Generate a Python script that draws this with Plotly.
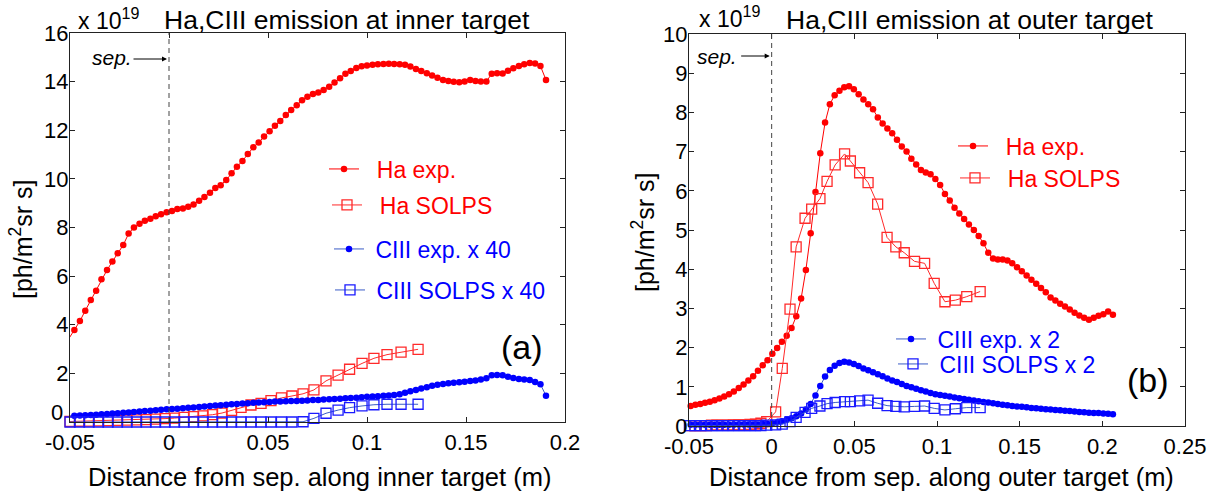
import plotly.graph_objects as go

W, H = 1220, 497
FONT = "Liberation Sans, Arial, sans-serif"
RED = "#ff0000"
RED_SQ = "#ff2a2a"
BLUE = "#0000ff"
BLUE_SQ = "#1a1aff"
CLINE = "#3a5cc6"

# ---------------- (a) inner target ----------------
x_inner_exp = [-0.0505, -0.0478, -0.0450, -0.0423, -0.0395, -0.0368, -0.0341, -0.0313, -0.0286, -0.0259,
               -0.0231, -0.0204, -0.0177, -0.0149, -0.0122, -0.0094, -0.0067, -0.0040, -0.0012, 0.0015,
               0.0042, 0.0070, 0.0097, 0.0124, 0.0152, 0.0179, 0.0207, 0.0234, 0.0261, 0.0289,
               0.0316, 0.0343, 0.0371, 0.0398, 0.0426, 0.0453, 0.0480, 0.0508, 0.0535, 0.0562,
               0.0590, 0.0617, 0.0645, 0.0672, 0.0699, 0.0727, 0.0754, 0.0781, 0.0809, 0.0836,
               0.0864, 0.0891, 0.0918, 0.0946, 0.0973, 0.1000, 0.1028, 0.1055, 0.1083, 0.1110,
               0.1137, 0.1165, 0.1192, 0.1219, 0.1247, 0.1274, 0.1302, 0.1329, 0.1356, 0.1384,
               0.1411, 0.1438, 0.1466, 0.1493, 0.1521, 0.1548, 0.1575, 0.1603, 0.1630, 0.1657,
               0.1685, 0.1712, 0.1739, 0.1767, 0.1794, 0.1822, 0.1849, 0.1876, 0.1904]
ha_inner_exp = [3.44, 3.78, 4.15, 4.58, 5.02, 5.40, 5.87, 6.25, 6.60, 6.94,
                7.28, 7.75, 8.00, 8.15, 8.28, 8.36, 8.46, 8.55, 8.63, 8.68,
                8.76, 8.78, 8.85, 8.95, 9.10, 9.25, 9.43, 9.62, 9.74, 9.95,
                10.23, 10.50, 10.74, 11.02, 11.30, 11.50, 11.74, 11.96, 12.19, 12.38,
                12.63, 12.83, 13.03, 13.23, 13.38, 13.49, 13.55, 13.66, 13.79, 13.96,
                14.14, 14.32, 14.44, 14.56, 14.63, 14.66, 14.69, 14.71, 14.73, 14.74,
                14.73, 14.71, 14.69, 14.62, 14.52, 14.44, 14.34, 14.25, 14.16, 14.07,
                14.03, 13.99, 13.97, 14.01, 14.07, 14.03, 14.01, 14.01, 14.32, 14.34,
                14.33, 14.45, 14.55, 14.64, 14.71, 14.77, 14.75, 14.64, 14.07]
ciii_inner_exp = [0.25, 0.26, 0.27, 0.28, 0.29, 0.30, 0.32, 0.33, 0.35, 0.36,
                  0.38, 0.39, 0.41, 0.43, 0.45, 0.46, 0.48, 0.50, 0.52, 0.53,
                  0.55, 0.57, 0.59, 0.60, 0.62, 0.64, 0.66, 0.68, 0.69, 0.71,
                  0.73, 0.74, 0.76, 0.77, 0.79, 0.80, 0.81, 0.82, 0.84, 0.84,
                  0.85, 0.86, 0.86, 0.87, 0.88, 0.90, 0.91, 0.93, 0.94, 0.95,
                  0.96, 0.98, 0.99, 1.00, 1.02, 1.04, 1.05, 1.06, 1.08, 1.09,
                  1.11, 1.14, 1.20, 1.26, 1.32, 1.38, 1.43, 1.49, 1.53, 1.56,
                  1.59, 1.61, 1.64, 1.66, 1.69, 1.71, 1.75, 1.80, 1.92, 1.93,
                  1.92, 1.86, 1.81, 1.77, 1.75, 1.73, 1.65, 1.55, 1.08]
x_inner_solps = [-0.0500, -0.0452, -0.0404, -0.0356, -0.0308, -0.0260, -0.0212, -0.0164, -0.0116, -0.0068,
                 -0.0020, 0.0028, 0.0076, 0.0124, 0.0172, 0.0220, 0.0268, 0.0316, 0.0364, 0.0414,
                 0.0465, 0.0515, 0.0568, 0.0621, 0.0677, 0.0732, 0.0793, 0.0854, 0.0912, 0.0975,
                 0.1035, 0.1101, 0.1172, 0.1258]
ha_inner_solps = [0.02, 0.03, 0.04, 0.05, 0.06, 0.07, 0.08, 0.09, 0.10, 0.12,
                  0.14, 0.16, 0.19, 0.22, 0.25, 0.30, 0.37, 0.48, 0.60, 0.70,
                  0.77, 0.88, 0.99, 1.07, 1.16, 1.32, 1.69, 1.93, 2.17, 2.41,
                  2.62, 2.77, 2.87, 2.99]
ciii_inner_solps = [0.00, 0.00, 0.00, 0.00, 0.00, 0.00, 0.00, 0.00, 0.00, 0.00,
                    0.00, 0.00, 0.00, 0.00, 0.00, 0.00, 0.00, 0.00, 0.00, 0.00,
                    0.00, 0.00, 0.00, 0.00, 0.01, 0.15, 0.36, 0.49, 0.59, 0.66,
                    0.71, 0.73, 0.73, 0.73]

# ---------------- (b) outer target ----------------
x_outer_exp = [-0.0490, -0.0461, -0.0432, -0.0403, -0.0374, -0.0345, -0.0316, -0.0287, -0.0258, -0.0229,
               -0.0199, -0.0170, -0.0141, -0.0112, -0.0083, -0.0054, -0.0025, 0.0004, 0.0033, 0.0062,
               0.0091, 0.0120, 0.0149, 0.0178, 0.0207, 0.0236, 0.0265, 0.0294, 0.0323, 0.0352,
               0.0381, 0.0410, 0.0439, 0.0468, 0.0497, 0.0526, 0.0555, 0.0584, 0.0613, 0.0642,
               0.0671, 0.0700, 0.0729, 0.0758, 0.0787, 0.0816, 0.0845, 0.0874, 0.0903, 0.0932,
               0.0961, 0.0990, 0.1019, 0.1048, 0.1077, 0.1106, 0.1135, 0.1164, 0.1193, 0.1223,
               0.1252, 0.1281, 0.1310, 0.1339, 0.1368, 0.1397, 0.1426, 0.1455, 0.1484, 0.1513,
               0.1542, 0.1571, 0.1600, 0.1629, 0.1658, 0.1687, 0.1716, 0.1745, 0.1774, 0.1803,
               0.1832, 0.1861, 0.1890, 0.1919, 0.1948, 0.1977, 0.2006, 0.2035, 0.2064]
ha_outer_exp = [0.51, 0.54, 0.56, 0.59, 0.62, 0.66, 0.70, 0.75, 0.81, 0.88,
                0.97, 1.06, 1.16, 1.27, 1.41, 1.55, 1.68, 1.84, 1.99, 2.15,
                2.30, 2.50, 2.80, 3.25, 3.98, 4.92, 5.97, 6.96, 7.74, 8.21,
                8.44, 8.55, 8.64, 8.67, 8.59, 8.46, 8.33, 8.21, 8.08, 7.87,
                7.72, 7.59, 7.47, 7.30, 7.13, 7.00, 6.82, 6.67, 6.53, 6.47,
                6.42, 6.30, 6.15, 5.92, 5.75, 5.57, 5.42, 5.28, 5.14, 5.00,
                4.85, 4.66, 4.42, 4.27, 4.25, 4.25, 4.22, 4.15, 4.05, 3.95,
                3.84, 3.73, 3.63, 3.52, 3.41, 3.28, 3.20, 3.12, 3.05, 2.97,
                2.89, 2.82, 2.76, 2.71, 2.76, 2.81, 2.85, 2.92, 2.84]
ciii_outer_exp = [0.03, 0.03, 0.03, 0.03, 0.03, 0.03, 0.03, 0.03, 0.03, 0.03,
                  0.04, 0.04, 0.04, 0.04, 0.04, 0.05, 0.05, 0.07, 0.09, 0.12,
                  0.16, 0.20, 0.25, 0.32, 0.42, 0.56, 0.78, 1.02, 1.26, 1.43,
                  1.54, 1.61, 1.64, 1.62, 1.58, 1.53, 1.47, 1.42, 1.37, 1.32,
                  1.27, 1.21, 1.16, 1.12, 1.07, 1.02, 0.99, 0.95, 0.91, 0.88,
                  0.84, 0.81, 0.79, 0.77, 0.75, 0.73, 0.71, 0.69, 0.67, 0.65,
                  0.63, 0.61, 0.60, 0.58, 0.56, 0.54, 0.53, 0.51, 0.50, 0.49,
                  0.48, 0.46, 0.45, 0.44, 0.43, 0.42, 0.41, 0.40, 0.39, 0.38,
                  0.37, 0.36, 0.35, 0.34, 0.33, 0.33, 0.32, 0.31, 0.30]
x_outer_solps = [-0.0497, -0.0464, -0.0430, -0.0397, -0.0364, -0.0331, -0.0297, -0.0264, -0.0231, -0.0198,
                 -0.0164, -0.0131, -0.0098, -0.0065, -0.0030, 0.0024, 0.0064, 0.0111, 0.0148, 0.0202,
                 0.0242, 0.0292, 0.0335, 0.0384, 0.0441, 0.0476, 0.0532, 0.0583, 0.0641, 0.0698,
                 0.0751, 0.0802, 0.0864, 0.0925, 0.0983, 0.1048, 0.1111, 0.1180, 0.1261]
ha_outer_solps = [0.01, 0.01, 0.01, 0.01, 0.02, 0.02, 0.02, 0.02, 0.03, 0.03,
                  0.03, 0.04, 0.05, 0.07, 0.11, 0.36, 1.47, 2.98, 4.57, 5.30,
                  5.53, 5.80, 6.24, 6.66, 6.94, 6.76, 6.46, 6.21, 5.66, 4.81,
                  4.57, 4.42, 4.20, 4.15, 3.64, 3.17, 3.21, 3.30, 3.43]
ciii_outer_solps = [0.01, 0.01, 0.01, 0.01, 0.01, 0.01, 0.01, 0.01, 0.01, 0.01,
                    0.01, 0.01, 0.01, 0.01, 0.02, 0.03, 0.05, 0.11, 0.22, 0.35,
                    0.45, 0.51, 0.57, 0.60, 0.62, 0.62, 0.64, 0.66, 0.58, 0.52,
                    0.50, 0.49, 0.50, 0.51, 0.45, 0.41, 0.44, 0.47, 0.47]

# ticks
xticks_inner = [-0.05, 0, 0.05, 0.1, 0.15, 0.2]
xtick_labels_inner = ["-0.05", "0", "0.05", "0.1", "0.15", "0.2"]
xticks_outer = [-0.05, 0, 0.05, 0.1, 0.15, 0.2, 0.25]
xtick_labels_outer = ["-0.05", "0", "0.05", "0.1", "0.15", "0.2", "0.25"]
yticks_inner = [0, 2, 4, 6, 8, 10, 12, 14, 16]
ytick_labels_inner = ["", "2", "4", "6", "8", "10", "12", "14", "16"]
yticks_outer = [0, 1, 2, 3, 4, 5, 6, 7, 8, 9, 10]
ytick_labels_outer = ["0", "1", "2", "3", "4", "5", "6", "7", "8", "9", "10"]

NB = "\u00a0"


def px(x):
    return x / W


def py(y):
    return 1 - y / H


fig = go.Figure()


def series(x, y, name, mcolor, lcolor, symbol, size, mlw, xa, ya, leg):
    fig.add_trace(go.Scatter(
        x=x, y=y, name=name, mode="lines+markers",
        line=dict(color=lcolor, width=1),
        marker=dict(symbol=symbol, size=size, color=mcolor,
                    line=dict(color=mcolor, width=mlw)),
        xaxis=xa, yaxis=ya, legend=leg, cliponaxis=False))


series(x_inner_exp, ha_inner_exp, NB * 2 + "Ha exp.", RED, RED, "circle", 6.5, 0, "x", "y", "legend")
series(x_inner_solps, ha_inner_solps, NB * 2 + "Ha SOLPS", RED_SQ, RED_SQ, "square-open", 10, 1.3, "x", "y", "legend2")
series(x_inner_exp, ciii_inner_exp, NB + "CIII exp. x 40", BLUE, CLINE, "circle", 6.5, 0, "x", "y", "legend3")
series(x_inner_solps, ciii_inner_solps, NB + "CIII SOLPS x 40", BLUE_SQ, CLINE, "square-open", 10, 1.3, "x", "y", "legend4")

series(x_outer_exp, ha_outer_exp, NB * 2 + "Ha exp.", RED, RED, "circle", 6.5, 0, "x2", "y2", "legend5")
series(x_outer_solps, ha_outer_solps, NB * 2 + "Ha SOLPS", RED_SQ, RED_SQ, "square-open", 10, 1.3, "x2", "y2", "legend6")
series(x_outer_exp, ciii_outer_exp, NB + "CIII exp. x 2", BLUE, CLINE, "circle", 6.5, 0, "x2", "y2", "legend7")
series(x_outer_solps, ciii_outer_solps, NB + "CIII SOLPS x 2", BLUE_SQ, CLINE, "square-open", 10, 1.3, "x2", "y2", "legend8")


def leg(xp, yp, color):
    return dict(x=px(xp), y=py(yp), xanchor="left", yanchor="middle",
                bgcolor="rgba(0,0,0,0)", borderwidth=0,
                font=dict(family=FONT, size=23, color=color))


legends = {
    "legend": leg(324, 169, RED),
    "legend2": leg(327, 205, RED),
    "legend3": leg(329, 249, BLUE),
    "legend4": leg(330, 290, BLUE),
    "legend5": leg(953, 146, RED),
    "legend6": leg(955, 178, RED),
    "legend7": leg(891, 339, BLUE),
    "legend8": leg(893, 364, BLUE),
}

axis_common = dict(showgrid=False, zeroline=False, showline=True, linecolor="#222",
                   linewidth=1, mirror="ticks", ticks="inside", ticklen=5,
                   tickcolor="#222", automargin=False,
                   tickfont=dict(family=FONT, size=22, color="black"))

fig.update_layout(
    width=W, height=H, margin=dict(l=0, r=0, t=0, b=0, pad=0, autoexpand=False),
    paper_bgcolor="white", plot_bgcolor="white", showlegend=True,
    xaxis=dict(domain=[px(70), px(565)], range=[-0.05, 0.2], tickmode="array",
               tickvals=xticks_inner, ticktext=xtick_labels_inner, anchor="y",
               ticklabelstandoff=1, **axis_common),
    yaxis=dict(domain=[py(422), py(33)], range=[0, 16], tickmode="array",
               tickvals=yticks_inner, ticktext=ytick_labels_inner, anchor="x",
               ticklabelstandoff=-4, **axis_common),
    xaxis2=dict(domain=[px(689), px(1185)], range=[-0.05, 0.25], tickmode="array",
                tickvals=xticks_outer, ticktext=xtick_labels_outer, anchor="y2",
                ticklabelstandoff=1, **axis_common),
    yaxis2=dict(domain=[py(426), py(34)], range=[0, 10], tickmode="array",
                tickvals=yticks_outer, ticktext=ytick_labels_outer, anchor="x2",
                ticklabelstandoff=-4, **axis_common),
    **legends,
)

# separatrix dashed lines
for xr, yr in (("x", "y domain"), ("x2", "y2 domain")):
    fig.add_shape(type="line", xref=xr, yref=yr, x0=0, x1=0, y0=0, y1=1,
                  line=dict(color="#444", width=1, dash="5px,4px"))

ann = []


def text(xp, yp, s, size, color="black", xanchor="center", yanchor="middle", angle=0, italic=False):
    ann.append(dict(x=px(xp), y=py(yp), xref="paper", yref="paper", text=s, showarrow=False,
                    xanchor=xanchor, yanchor=yanchor, textangle=angle,
                    font=dict(family=FONT, size=size, color=color,
                              style="italic" if italic else "normal")))


# titles
text(346.5, 20, "Ha,CIII emission at inner target", 26.5)
text(969, 20, "Ha,CIII emission at outer target", 26.5)
# exponent labels
text(76, 19, "x 10<sup>19</sup>", 23, xanchor="left")
text(697, 17, "x 10<sup>19</sup>", 23, xanchor="left")
# axis titles
text(319, 477, "Distance from sep. along inner target (m)", 25.5)
text(941, 477, "Distance from sep. along outer target (m)", 25.5)
text(21, 240, "[ph/m<sup>2</sup>sr s]", 25, angle=-90)
text(643, 233, "[ph/m<sup>2</sup>sr s]", 25, angle=-90)
# raised zero label on inner y axis
text(65, 412, "0", 22, xanchor="right")
# panel labels
text(521.7, 346.7, "(a)", 34)
text(1148, 380, "(b)", 34)
# sep. labels
text(111.5, 58, "sep.", 21, italic=True)
text(716.5, 57, "sep.", 21, italic=True)

# sep. arrows
for xr, yp, alen in (("x", 59, 37), ("x2", 56, 32)):
    ann.append(dict(x=0, y=py(yp), xref=xr, yref="paper", text="", showarrow=True,
                    ax=-alen, ay=0, arrowhead=2, arrowsize=1, arrowwidth=1,
                    arrowcolor="black", standoff=2))

fig.update_layout(annotations=ann)

fig.write_html("out.html")
